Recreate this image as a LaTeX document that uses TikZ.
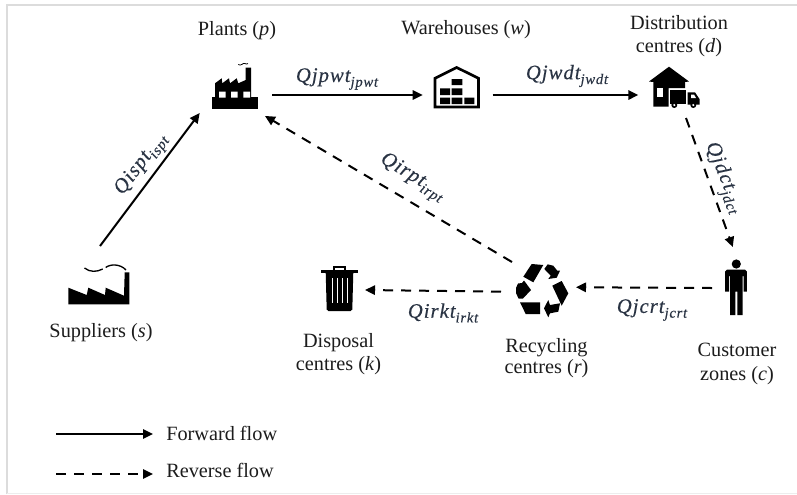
\documentclass[tikz,border=0pt]{standalone}
\usepackage{fontspec}
\setmainfont{Liberation Serif}
\newfontfamily\qfont[LetterSpace=5,FakeBold=0.25]{Liberation Serif}
\usetikzlibrary{arrows.meta}
\definecolor{ink}{HTML}{1C1C1C}
\definecolor{qink}{HTML}{2A3444}
\definecolor{framegrey}{HTML}{DCDCDC}
\newcommand{\qlab}[2]{{\qfont\itshape\fontsize{15.5}{17}\selectfont #1\raisebox{-0.5ex}{\fontsize{11}{12}\selectfont #2}}}
\tikzset{
  icon/.style={inner sep=0pt,outer sep=0pt,draw=none},
  lab/.style={font=\fontsize{15.2}{17.5}\selectfont,text=ink,align=center,inner sep=0pt},
  flowlab/.style={text=qink,inner sep=0pt},
  flow/.style={line width=1.5pt,black,-{Triangle[length=7.5pt,width=7pt]}},
  fwd/.style={flow},
  rev/.style={flow,dash pattern=on 7.5pt off 6pt},
  solidblack/.style={fill=black,draw=none},
  holewhite/.style={fill=white,draw=none}
}
\begin{document}
\begin{tikzpicture}[x=0.75pt,y=-0.75pt]
\useasboundingbox (0,0) rectangle (797,494);
\fill[white] (0,0) rectangle (797,494);
% frame of the screenshot
\draw[framegrey,line width=1.5pt] (7,494) -- (7,4.7) -- (797,4.7);
\draw[framegrey!50,line width=0.6pt] (7,493.5) -- (797,493.5);

% anchors for the icons
\node[icon,minimum width=54.45pt,minimum height=27pt] (p) at (236,95) {};
\node[icon,minimum width=52.5pt,minimum height=22.5pt] (w) at (457.7,95) {};
\node[icon,minimum width=55pt,minimum height=34.5pt] (d) at (675,95) {};
\node[icon,minimum width=67.5pt,minimum height=63pt] (s) at (100,288) {};
\node[icon,minimum width=39pt,minimum height=37.5pt] (k) at (339,290) {};
\node[icon,minimum width=56.25pt,minimum height=40.5pt] (r) at (538.5,289) {};
\node[icon,minimum width=36pt,minimum height=61.5pt] (c) at (736,288) {};

% plants
\fill[solidblack] (212.3,97) rectangle (257.7,108.5);
\fill[solidblack] (215,98) -- (215,83.3) -- (221.7,78.3) -- (222.3,83.3) -- (229,78.3) -- (230,83.3) -- (236.7,78.3) -- (238.3,83.3) -- (245.7,80) -- (245.7,67.7) -- (251,67.7) -- (251,98) -- cycle;
\fill[holewhite] (219,91.5) rectangle (225.7,97.7) (231,91.5) rectangle (237.7,97.7) (243.3,91.5) rectangle (250,97.7);
\draw[black,line width=0.6pt] (238.3,64.5) .. controls (241,66.5) and (243,62.5) .. (245,63.5) .. controls (246,64) and (247,64.5) .. (248,63.5);

% warehouse
\draw[black,line width=2pt,line join=miter] (435,107) -- (435,78.3) -- (456.7,67.5) -- (478.5,78.3) -- (478.5,107) -- cycle;
\fill[solidblack] (451.7,79) rectangle (462.3,85)
  (440,88.3) rectangle (450,95) (451.7,88.3) rectangle (462.3,95)
  (440,97.7) rectangle (450,104) (451.7,97.7) rectangle (462.3,104) (464.3,97.7) rectangle (474.3,104);

% distribution centre
\fill[solidblack] (649,81.5) -- (669,66.7) -- (689,81.5) -- (685,82) -- (685,88) -- (668.5,88) -- (668.5,106.7) -- (653.3,106.7) -- (653.3,82) -- cycle;
\fill[holewhite] (656.7,88.3) rectangle (663.3,97.3);
\fill[solidblack] (670,90) rectangle (685.7,104.3);
\fill[solidblack] (687.7,92.3) -- (695,92.3) -- (699.5,99) -- (699.5,104.5) -- (687.7,104.5) -- cycle;
\fill[holewhite] (691,94.5) -- (694,94.5) -- (696,98) -- (691,98) -- cycle;
\fill[solidblack] (674.3,105) circle (3) (693.3,105) circle (3);
\fill[holewhite] (674.3,105) circle (1.2) (693.3,105) circle (1.2);

% suppliers
\fill[solidblack] (68.3,304.3) -- (68.3,287.7) -- (86.7,295) -- (88.3,287.7) -- (105,295) -- (105.7,287.7) -- (124,295.7) -- (124.7,272.3) -- (129.3,272.3) -- (129.3,304.3) -- cycle;
\draw[black,line width=1pt] (84.5,268) .. controls (90,272.5) and (97,272) .. (102.7,269);
\draw[black,line width=1pt] (105.7,267.5) .. controls (110,264) and (120,263.5) .. (126,270);

% disposal bin
\fill[solidblack] (321,270) rectangle (357.7,272.7);
\draw[black,line width=1pt] (334,270) -- (334,267) -- (345,267) -- (345,270);
\fill[solidblack] (325.7,272) -- (353.3,272) -- (352.3,309.5) -- (350.5,311) -- (328.5,311) -- (326.7,309.5) -- cycle;
\draw[white,line width=0.6pt] (332.5,278) -- (332.5,303) (337.5,278) -- (337.5,303) (342,278) -- (342,303) (347,278) -- (347,303);

% recycling
\fill[solidblack] (523.3,276.7) -- (531.7,264) -- (543.3,265) -- (533.3,282.3) -- cycle;
\fill[solidblack] (544.3,269) -- (547.7,264.3) -- (553.3,265.7) -- (557.3,270.7) -- (560,270.7) -- (556.7,277.7) -- (548.3,279) -- (550.7,275.7) -- cycle;
\fill[solidblack] (552.3,285.7) -- (561.7,281) -- (568.3,293.3) -- (561.7,305.7) -- cycle;
\fill[solidblack] (560,303.3) -- (558.3,311.7) -- (550,313.3) -- (548.3,317.3) -- (544,308.3) -- (548.3,300) -- (550,305) -- cycle;
\fill[solidblack] (520,302.3) -- (540,302.3) -- (540,314) -- (525.7,314) -- cycle;
\fill[solidblack] (516,288) -- (518,283.5) -- (522,283) -- (524,280.5) -- (531,290) -- (523,298.5) -- (518.5,298.5) -- (516,293) -- cycle;

% customer
\fill[solidblack] (736.3,264) circle (4.6);
\fill[solidblack] (727,269.5) -- (745,269.5) -- (746.8,271.5) -- (746.8,291.7) -- (743.6,291.7) -- (743.6,276) -- (742.6,276) -- (742.6,315) -- (737.4,315) -- (737.4,291.7) -- (735.4,291.7) -- (735.4,315) -- (730.2,315) -- (730.2,276) -- (729,276) -- (729,291.7) -- (725,291.7) -- (725,271.5) -- cycle;

% connectors
\draw[fwd] (s.north) -- (p.south west);
\draw[fwd] (p.east) -- (w.west);
\draw[fwd] (w.east) -- (d.west);
\draw[rev] ([xshift=8.25pt]d.south) -- ([xshift=-2.4pt]c.north);
\draw[rev] (c.west) -- ([yshift=1.3pt]r.east);
\draw[rev] ([yshift=-2pt]r.west) -- (k.east);
\draw[rev] ([xshift=8.25pt]r.north west) -- ([xshift=-5.5pt,yshift=-2.2pt]p.south east);

% icon captions
\node[lab] (lp) at (237,31) {Plants (\textit{p})};
\node[lab] (lw) at (466,30) {Warehouses (\textit{w})};
\node[lab] (ld) at (679,36) {Distribution\\centres (\textit{d})};
\node[lab] (ls) at (101,333) {Suppliers (\textit{s})};
\node[lab] (lk) at (338.5,354) {Disposal\\centres (\textit{k})};
\node[lab] (lr) at (546.5,358) {Recycling\\[-1.6pt]centres (\textit{r})};
\node[lab] (lc) at (737,364) {Customer\\[1pt]zones (\textit{c})};

% flow labels
\node[flowlab] (qjpwt) at (337,79) {\qlab{Qjpwt}{jpwt}};
\node[flowlab] (qjwdt) at (567,76) {\qlab{Qjwdt}{jwdt}};
\node[flowlab,rotate=53] (qispt) at (142,165) {\qlab{Qispt}{ispt}};
\node[flowlab,rotate=-31] (qirpt) at (412,178) {\qlab{Qirpt}{irpt}};
\node[flowlab,rotate=-68] (qjdct) at (723,178) {\qlab{Qjdct}{jdct}};
\node[flowlab] (qjcrt) at (652,310) {\qlab{Qjcrt}{jcrt}};
\node[flowlab] (qirkt) at (443,313) {\qlab{Qirkt}{irkt}};

% legend
\coordinate (fa) at (56,434);
\coordinate (fb) at (153,434);
\coordinate (ra) at (56,474);
\coordinate (rb) at (153,474);
\draw[fwd] (fa) -- (fb);
\draw[rev] (ra) -- (rb);
\node[lab,anchor=west] (lfw) at (166,433) {Forward flow};
\node[lab,anchor=west] (lrv) at (166,470.5) {Reverse flow};
\end{tikzpicture}
\end{document}
